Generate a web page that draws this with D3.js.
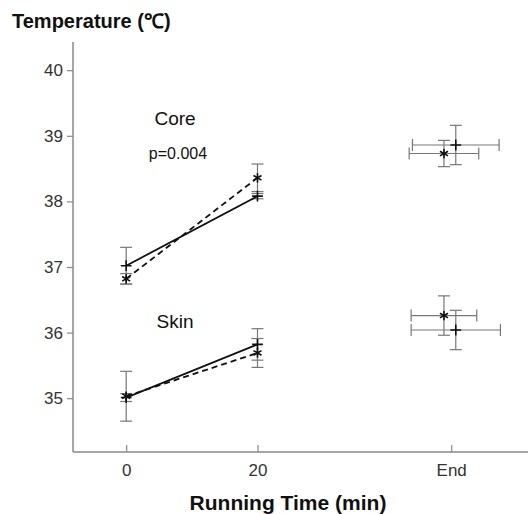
<!DOCTYPE html>
<html>
<head>
<meta charset="utf-8">
<script src="https://cdn.jsdelivr.net/npm/d3@7"></script>
<style>
  body { margin: 0; background: #fff; }
  svg { font-family: Arial, "Liberation Sans", sans-serif; }
</style>
</head>
<body>
<div id="chart"></div>
<script>
// running time points (min) measured during the run
var times = [0, 20];
// core temperature: solid (+) and dashed (*) series with SD
var coreSolid = [37.02, 38.08];
var coreSolidErr = [0.28, 0.04];
var coreDash = [36.82, 38.36];
var coreDashErr = [0.08, 0.21];
// skin temperature
var skinSolid = [35.01, 35.82];
var skinSolidErr = [0.06, 0.24];
var skinDash = [35.03, 35.69];
var skinDashErr = [0.38, 0.22];
// end of run: time (mean, sd) and temperature (mean, sd)
var endTime = [50.2, 48.4, 50.2, 48.4];
var endTimeErr = [6.6, 5.3, 6.8, 5.0];
var endTemp = [38.86, 38.73, 36.04, 36.26];
var endTempErr = [0.30, 0.20, 0.30, 0.30];
var endMarker = ["plus", "star", "plus", "star"];
// axis ticks
var xTickValues = [0, 20, 49.5];
var xTickLabels = ["0", "20", "End"];
var yTickValues = [35, 36, 37, 38, 39, 40];

var width = 528, height = 514;

var svg = d3.select("#chart")
  .append("svg")
  .attr("width", width)
  .attr("height", height);

var x = d3.scaleLinear()
  .domain([-8.1, 61.2])
  .range([73, 528]);

var y = d3.scaleLinear()
  .domain([34.18, 40.43])
  .range([452, 42]);

// axes
var yAxis = svg.append("g")
  .attr("transform", "translate(73,0)")
  .call(d3.axisLeft(y).tickValues(yTickValues).tickFormat(d3.format("d"))
    .tickSize(6).tickPadding(4));

var xAxis = svg.append("g")
  .attr("transform", "translate(0,452)")
  .call(d3.axisBottom(x).tickValues(xTickValues)
    .tickFormat(function(d, i) { return xTickLabels[i]; })
    .tickSize(-7).tickPadding(12));

[yAxis, xAxis].forEach(function(g) {
  g.select(".domain").attr("stroke", "#888").attr("stroke-width", 1.5);
  g.selectAll(".tick line").attr("stroke", "#888").attr("stroke-width", 1.2);
  g.selectAll(".tick text")
    .attr("fill", "#333")
    .style("font-size", "17px")
    .style("font-family", "Arial, 'Liberation Sans', sans-serif");
});
// extend the y domain line down to the x axis
yAxis.select(".domain").attr("d", "M0,42V452");
xAxis.select(".domain").attr("d", "M73,0H528");

// build the series rows
var series = [
  { v: coreSolid, e: coreSolidErr, m: "plus", dash: null },
  { v: coreDash, e: coreDashErr, m: "star", dash: "6,4" },
  { v: skinSolid, e: skinSolidErr, m: "plus", dash: null },
  { v: skinDash, e: skinDashErr, m: "star", dash: "6,4" }
];

var plus = d3.symbol().type(d3.symbolPlus).size(40);
var star = d3.symbol().type(d3.symbolAsterisk).size(60);

function errBarV(g, cx, lo, hi) {
  g.append("line").attr("x1", cx).attr("x2", cx).attr("y1", y(lo)).attr("y2", y(hi));
  g.append("line").attr("x1", cx - 6).attr("x2", cx + 6).attr("y1", y(lo)).attr("y2", y(lo));
  g.append("line").attr("x1", cx - 6).attr("x2", cx + 6).attr("y1", y(hi)).attr("y2", y(hi));
}

function errBarH(g, cy, lo, hi) {
  g.append("line").attr("x1", x(lo)).attr("x2", x(hi)).attr("y1", cy).attr("y2", cy);
  g.append("line").attr("x1", x(lo)).attr("x2", x(lo)).attr("y1", cy - 6).attr("y2", cy + 6);
  g.append("line").attr("x1", x(hi)).attr("x2", x(hi)).attr("y1", cy - 6).attr("y2", cy + 6);
}

var bars = svg.append("g")
  .attr("stroke", "#777")
  .attr("stroke-width", 1.2)
  .attr("fill", "none");

// error bars for 0 and 20 min
series.forEach(function(s) {
  times.forEach(function(t, i) {
    errBarV(bars, x(t), s.v[i] - s.e[i], s.v[i] + s.e[i]);
  });
});

// error bars at end of run
endTime.forEach(function(t, i) {
  errBarV(bars, x(t), endTemp[i] - endTempErr[i], endTemp[i] + endTempErr[i]);
  errBarH(bars, y(endTemp[i]), t - endTimeErr[i], t + endTimeErr[i]);
});

// lines
var line = d3.line()
  .x(function(d, i) { return x(times[i]); })
  .y(function(d) { return y(d); });

series.forEach(function(s) {
  svg.append("path")
    .datum(s.v)
    .attr("fill", "none")
    .attr("stroke", "#111")
    .attr("stroke-width", 1.8)
    .attr("stroke-dasharray", s.dash)
    .attr("d", line);
});

// markers
function marker(cx, cy, m) {
  svg.append("path")
    .attr("transform", "translate(" + cx + "," + cy + ")")
    .attr("d", m == "plus" ? plus() : star())
    .attr("fill", "none")
    .attr("stroke", "#111")
    .attr("stroke-width", 1.6);
}

series.forEach(function(s) {
  s.v.forEach(function(d, i) {
    marker(x(times[i]), y(d), s.m);
  });
});

endTime.forEach(function(t, i) {
  marker(x(t), y(endTemp[i]), endMarker[i]);
});

// annotations
svg.append("text")
  .attr("x", 175).attr("y", 125)
  .attr("text-anchor", "middle")
  .style("font-size", "19px")
  .attr("fill", "#111")
  .text("Core");

svg.append("text")
  .attr("x", 178).attr("y", 159)
  .attr("text-anchor", "middle")
  .style("font-size", "16px")
  .attr("fill", "#111")
  .text("p=0.004");

svg.append("text")
  .attr("x", 175).attr("y", 328)
  .attr("text-anchor", "middle")
  .style("font-size", "19px")
  .attr("fill", "#111")
  .text("Skin");

// axis titles
svg.append("text")
  .attr("x", 12).attr("y", 28)
  .style("font-size", "20px")
  .style("font-weight", "bold")
  .attr("fill", "#111")
  .text("Temperature (℃)");

svg.append("text")
  .attr("x", 288).attr("y", 510)
  .attr("text-anchor", "middle")
  .style("font-size", "21px")
  .style("font-weight", "bold")
  .attr("fill", "#111")
  .text("Running Time (min)");
</script>
</body>
</html>
